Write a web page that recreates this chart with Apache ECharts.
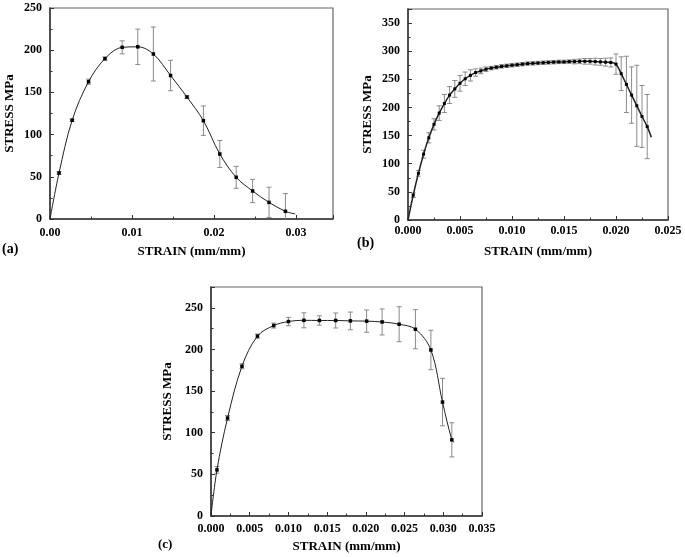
<!DOCTYPE html>
<html>
<head>
<meta charset="utf-8">
<script src="https://cdn.jsdelivr.net/npm/echarts@6/dist/echarts.min.js"></script>
<style>html,body{margin:0;padding:0;background:#fff}#c{width:685px;height:557px}</style>
</head>
<body>
<div id="c"></div>
<script>
// Panel (a)
const strainA = [0.0011,0.0027,0.0047,0.0067,0.0088,0.0107,0.0126,0.0147,0.0167,0.0187,0.0207,0.0227,0.0247,0.0267,0.0287];
const stressA = [54.5,117,162.7,190,203.4,204,195.5,170,144.5,116.5,77,49.4,33.2,19.7,9.1];
const errA    = [1.5,1.5,3,2,7.7,21,32,18,1.5,17.4,16,13,13.8,18,21];
const curveStartA = [0,0];
const curveEndA = [0.0299,6];

// Panel (b)
const strainB = [0.0005,0.001,0.0015,0.002,0.0025,0.003,0.0035,0.004,0.0045,0.005,
  0.0055,0.006,0.0065,0.007,0.0075,0.008,0.0085,0.009,0.0095,0.010,
  0.0105,0.011,0.0115,0.012,0.0125,0.013,0.0135,0.014,0.0145,0.015,
  0.0155,0.016,0.0165,0.017,0.0175,0.018,0.0185,0.019,0.0195,0.020,
  0.0205,0.021,0.0215,0.022,0.0225,0.023];
const stressB = [44,83,117,146,170,190,207,222,233,243,
  251,257,262,265,268,270,271.5,273,274,275,
  276,277,278,278.5,279,279.5,280,280.5,281,281,
  281.5,281.5,282,282,282,281.5,281,280.5,280,277,
  260,241,222,203,184,166];
const errB = [4,5,7,9,10,13,16,15,15,14,
  12,10,6.5,5,4,3,3,3,3,3,
  3,3,3,3,3,3,3,3,3,3,
  3,4,4,5,5,6,6,7,8,18,
  30,50,50,72,55,57];
const curveStartB = [0,0];
const curveEndB = [0.0234,147];

// Panel (c)
const strainC = [0.00077,0.00214,0.0040,0.0060,0.0081,0.0100,0.0120,0.0140,0.0161,0.0180,0.0201,0.0221,0.0243,0.0264,0.0284,0.0299,0.0311];
const stressC = [55.4,117.6,179.8,216,228.7,233.5,235,234.8,234.8,234.3,234,233,230.3,224.3,199.4,136.8,91.5];
const errC    = [4,3,3,2.5,3,5,9,5.6,9,10.6,13.4,15.6,21,23.5,23.7,28.5,20.5];
const curveStartC = [0,0];
const curveEndC = [0.0314,88.7];

// Tick settings
const xTicksA = {max:0.0345, interval:0.01, digits:2};
const xTicksB = {max:0.025, interval:0.005, digits:3};
const xTicksC = {max:0.035, interval:0.005, digits:3};
const yTicksA = {max:250, interval:50};
const yTicksB = {max:375, interval:50};
const yTicksC = {max:275, interval:50};

const FONT = '"Liberation Serif", "DejaVu Serif", serif';
const AXC = '#333';

function lineData(start, xs, ys, end){
  const d = [{value:start, symbol:'none'}];
  xs.forEach((x,i)=>d.push([x, ys[i]]));
  d.push({value:end, symbol:'none'});
  return d;
}
function errData(xs, ys, es){ return xs.map((x,i)=>[x, ys[i], es[i]]); }

function renderErr(params, api){
  const x = api.value(0), y = api.value(1), e = api.value(2);
  const t = api.coord([x, y + e]);
  const b = api.coord([x, y - e]);
  const w = 2.5;
  const st = {stroke:'#8a8a8a', lineWidth:1};
  return {type:'group', children:[
    {type:'line', shape:{x1:t[0],y1:t[1],x2:b[0],y2:b[1]}, style:st},
    {type:'line', shape:{x1:t[0]-w,y1:t[1],x2:t[0]+w,y2:t[1]}, style:st},
    {type:'line', shape:{x1:b[0]-w,y1:b[1],x2:b[0]+w,y2:b[1]}, style:st}
  ]};
}

function xAxis(idx, tk, gap, margin){
  return {
    gridIndex: idx, type:'value', min:0, max:tk.max, interval:tk.interval,
    axisLine:{onZero:false, lineStyle:{color:AXC, width:1.5}},
    axisTick:{inside:true, length:4, lineStyle:{color:AXC, width:1}},
    minorTick:{show:true, splitNumber:2, length:2.5, lineStyle:{color:AXC}},
    splitLine:{show:false},
    axisLabel:{
      margin: margin, fontFamily:FONT, fontWeight:'bold', fontSize:12, color:'#000',
      formatter: v => {
        const r = v / tk.interval;
        return Math.abs(r - Math.round(r)) < 1e-6 ? v.toFixed(tk.digits) : '';
      }
    },
    name:'STRAIN (mm/mm)', nameLocation:'middle', nameGap:gap,
    nameTextStyle:{fontFamily:FONT, fontWeight:'bold', fontSize:13, color:'#000'}
  };
}
function yAxis(idx, tk, gap){
  return {
    gridIndex: idx, type:'value', min:0, max:tk.max, interval:tk.interval,
    axisLine:{onZero:false, lineStyle:{color:AXC, width:1.5}},
    axisTick:{inside:true, length:4, lineStyle:{color:AXC, width:1}},
    minorTick:{show:true, splitNumber:2, length:2.5, lineStyle:{color:AXC}},
    splitLine:{show:false},
    axisLabel:{
      margin:8, fontFamily:FONT, fontWeight:'bold', fontSize:12, color:'#000',
      formatter: v => (Math.abs(v % tk.interval) < 1e-6 ? String(v) : '')
    },
    name:'STRESS MPa', nameLocation:'middle', nameGap:gap,
    nameTextStyle:{fontFamily:FONT, fontWeight:'bold', fontSize:13, color:'#000'}
  };
}
function curve(idx, data, size, lw){
  return {
    type:'line', xAxisIndex:idx, yAxisIndex:idx, data:data, smooth:0.35,
    symbol:'rect', symbolSize:size, showAllSymbol:true, z:3,
    lineStyle:{color:'#222', width:lw}, itemStyle:{color:'#000'}
  };
}
function errSeries(idx, data){
  return {type:'custom', xAxisIndex:idx, yAxisIndex:idx, data:data, renderItem:renderErr,
    clip:true, z:2, encode:{x:0, y:1}};
}

const gridBox = {show:true, borderColor:'#666', borderWidth:1.2, backgroundColor:'transparent'};

const chart = echarts.init(document.getElementById('c'), null, {renderer:'canvas'});
chart.setOption({
  animation:false,
  backgroundColor:'#fff',
  grid:[
    Object.assign({left:50, top:8, width:283, height:211}, gridBox),
    Object.assign({left:408, top:9, width:260, height:211}, gridBox),
    Object.assign({left:211, top:287, width:271, height:229}, gridBox)
  ],
  xAxis:[ xAxis(0, xTicksA, 26, 8), xAxis(1, xTicksB, 25, 5), xAxis(2, xTicksC, 24, 7) ],
  yAxis:[ yAxis(0, yTicksA, 34), yAxis(1, yTicksB, 34), yAxis(2, yTicksC, 37) ],
  series:[
    errSeries(0, errData(strainA, stressA, errA)),
    curve(0, lineData(curveStartA, strainA, stressA, curveEndA), 3.5, 1),
    errSeries(1, errData(strainB, stressB, errB)),
    curve(1, lineData(curveStartB, strainB, stressB, curveEndB), 3, 1.5),
    errSeries(2, errData(strainC, stressC, errC)),
    curve(2, lineData(curveStartC, strainC, stressC, curveEndC), 3.5, 1)
  ],
  graphic:[
    {type:'text', left:2, top:242, style:{text:'(a)', font:'bold 14px "Liberation Serif"', fill:'#000'}},
    {type:'text', left:357, top:236, style:{text:'(b)', font:'bold 14px "Liberation Serif"', fill:'#000'}},
    {type:'text', left:158, top:538, style:{text:'(c)', font:'bold 13px "Liberation Serif"', fill:'#000'}}
  ]
});
</script>
</body>
</html>
